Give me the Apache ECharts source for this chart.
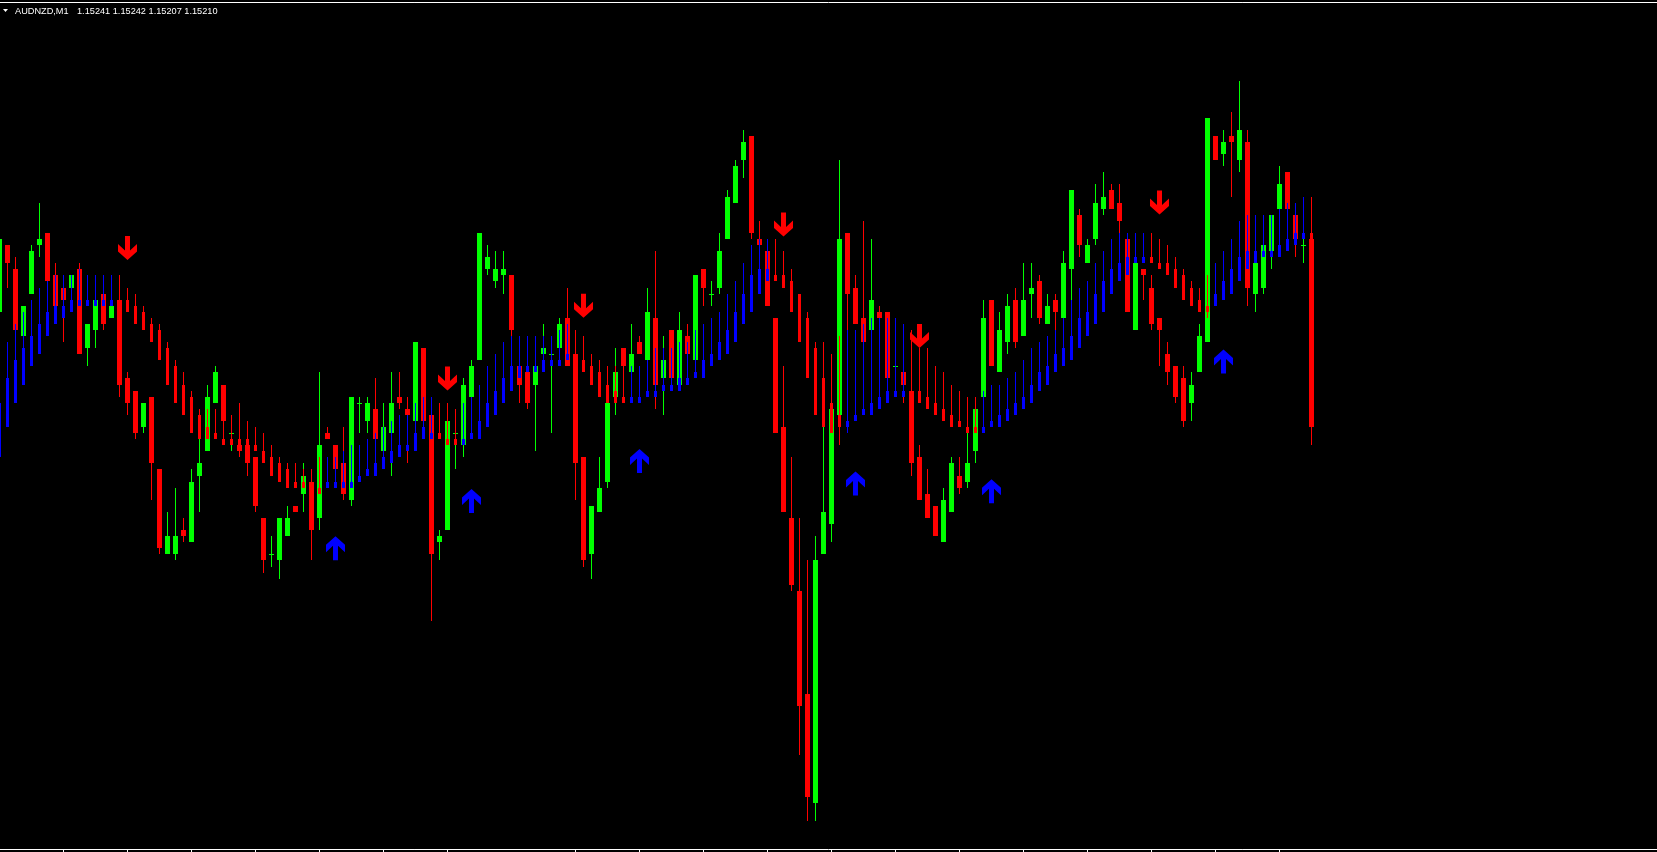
<!DOCTYPE html>
<html>
<head>
<meta charset="utf-8">
<title>AUDNZD,M1</title>
<script src="https://cdn.jsdelivr.net/npm/echarts@6/dist/echarts.min.js"></script>
<style>
  html, body { margin: 0; padding: 0; background: #000; }
  #chart { width: 1657px; height: 852px; }
</style>
</head>
<body>
<div id="chart"></div>
<script>
// AUDNZD M1 - bars numbered from the oldest visible one (0) to the current one (164)
const symbol = 'AUDNZD,M1'

const open = [
  1.15229,1.15240,1.15236,1.15225,1.15232,1.15240,1.15242,1.15235,1.15233,1.15233,
  1.15236,1.15223,1.15226,1.15232,1.15228,1.15231,1.15218,1.15216,1.15210,1.15215,
  1.15203,1.15189,1.15189,1.15193,1.15191,1.15202,1.15206,1.15214,1.15217,1.15209,
  1.15207,1.15207,1.15205,1.15195,1.15189,1.15188,1.15192,1.15197,1.15199,1.15201,
  1.15195,1.15209,1.15207,1.15204,1.15198,1.15214,1.15211,1.15213,1.15206,1.15209,
  1.15215,1.15213,1.15211,1.15223,1.15212,1.15191,1.15193,1.15209,1.15207,1.15215,
  1.15221,1.15236,1.15234,1.15235,1.15235,1.15220,1.15219,1.15217,1.15222,1.15222,
  1.15223,1.15228,1.15222,1.15205,1.15189,1.15196,1.15201,1.15215,1.15223,1.15219,
  1.15224,1.15221,1.15228,1.15218,1.15226,1.15217,1.15225,1.15221,1.15236,1.15232,
  1.15233,1.15241,1.15247,1.15254,1.15258,1.15241,1.15239,1.15228,1.15210,1.15195,
  1.15183,1.15166,1.15148,1.15189,1.15194,1.15212,1.15242,1.15233,1.15228,1.15226,
  1.15229,1.15229,1.15220,1.15219,1.15216,1.15205,1.15199,1.15197,1.15191,1.15196,
  1.15202,1.15201,1.15206,1.15215,1.15231,1.15219,1.15224,1.15231,1.15225,1.15232,
  1.15234,1.15227,1.15231,1.15228,1.15236,1.15245,1.15237,1.15241,1.15246,1.15249,
  1.15247,1.15241,1.15226,1.15236,1.15233,1.15228,1.15222,1.15220,1.15218,1.15214,
  1.15219,1.15224,1.15258,1.15255,1.15258,1.15254,1.15257,1.15232,1.15233,1.15239,
  1.15246,1.15252,1.15245,1.15240,1.15241
]
const high = [
  1.15241,1.15240,1.15238,1.15230,1.15240,1.15247,1.15242,1.15237,1.15233,1.15235,
  1.15237,1.15227,1.15231,1.15232,1.15230,1.15235,1.15219,1.15216,1.15214,1.15215,
  1.15203,1.15196,1.15200,1.15195,1.15203,1.15208,1.15217,1.15220,1.15217,1.15212,
  1.15214,1.15211,1.15205,1.15195,1.15192,1.15195,1.15197,1.15197,1.15204,1.15203,
  1.15219,1.15210,1.15207,1.15210,1.15215,1.15215,1.15215,1.15218,1.15214,1.15219,
  1.15219,1.15215,1.15224,1.15223,1.15212,1.15193,1.15211,1.15209,1.15218,1.15221,
  1.15242,1.15240,1.15239,1.15239,1.15235,1.15220,1.15219,1.15220,1.15227,1.15222,
  1.15228,1.15233,1.15226,1.15205,1.15197,1.15205,1.15214,1.15223,1.15223,1.15227,
  1.15225,1.15233,1.15239,1.15225,1.15226,1.15229,1.15227,1.15235,1.15236,1.15234,
  1.15242,1.15249,1.15254,1.15259,1.15258,1.15244,1.15239,1.15228,1.15220,1.15205,
  1.15195,1.15188,1.15192,1.15224,1.15213,1.15254,1.15242,1.15235,1.15244,1.15241,
  1.15230,1.15229,1.15220,1.15219,1.15226,1.15207,1.15203,1.15197,1.15200,1.15205,
  1.15205,1.15209,1.15215,1.15231,1.15231,1.15229,1.15232,1.15233,1.15237,1.15237,
  1.15235,1.15232,1.15232,1.15239,1.15249,1.15246,1.15241,1.15250,1.15252,1.15250,
  1.15250,1.15241,1.15237,1.15236,1.15235,1.15228,1.15224,1.15220,1.15220,1.15219,
  1.15227,1.15261,1.15258,1.15259,1.15262,1.15267,1.15259,1.15237,1.15240,1.15245,
  1.15253,1.15252,1.15245,1.15248,1.15242
]
const low = [
  1.15229,1.15233,1.15226,1.15225,1.15232,1.15238,1.15234,1.15230,1.15224,1.15233,
  1.15222,1.15220,1.15223,1.15226,1.15228,1.15215,1.15212,1.15208,1.15209,1.15198,
  1.15189,1.15189,1.15188,1.15191,1.15191,1.15196,1.15206,1.15214,1.15208,1.15206,
  1.15205,1.15202,1.15196,1.15186,1.15187,1.15185,1.15192,1.15196,1.15196,1.15188,
  1.15193,1.15208,1.15203,1.15198,1.15197,1.15209,1.15209,1.15208,1.15206,1.15202,
  1.15213,1.15204,1.15211,1.15211,1.15178,1.15188,1.15193,1.15203,1.15205,1.15215,
  1.15221,1.15235,1.15233,1.15232,1.15225,1.15214,1.15213,1.15206,1.15222,1.15209,
  1.15223,1.15220,1.15198,1.15187,1.15185,1.15196,1.15200,1.15212,1.15214,1.15219,
  1.15222,1.15221,1.15213,1.15212,1.15218,1.15217,1.15222,1.15221,1.15230,1.15230,
  1.15232,1.15241,1.15247,1.15251,1.15241,1.15240,1.15230,1.15209,1.15196,1.15183,
  1.15156,1.15145,1.15145,1.15189,1.15191,1.15212,1.15225,1.15227,1.15224,1.15226,
  1.15228,1.15218,1.15220,1.15214,1.15202,1.15198,1.15195,1.15192,1.15191,1.15196,
  1.15199,1.15200,1.15204,1.15215,1.15220,1.15219,1.15222,1.15223,1.15225,1.15228,
  1.15227,1.15227,1.15226,1.15228,1.15231,1.15238,1.15237,1.15240,1.15245,1.15246,
  1.15242,1.15229,1.15226,1.15231,1.15226,1.15220,1.15217,1.15214,1.15210,1.15211,
  1.15219,1.15224,1.15254,1.15253,1.15248,1.15252,1.15230,1.15229,1.15232,1.15236,
  1.15246,1.15246,1.15238,1.15237,1.15207
]
const close = [
  1.15241,1.15237,1.15226,1.15230,1.15239,1.15241,1.15234,1.15230,1.15231,1.15235,
  1.15222,1.15227,1.15231,1.15227,1.15230,1.15217,1.15214,1.15209,1.15214,1.15204,
  1.15190,1.15192,1.15192,1.15192,1.15201,1.15204,1.15215,1.15219,1.15211,1.15209,
  1.15206,1.15204,1.15197,1.15188,1.15189,1.15195,1.15195,1.15196,1.15202,1.15193,
  1.15207,1.15208,1.15203,1.15199,1.15215,1.15214,1.15214,1.15208,1.15210,1.15214,
  1.15214,1.15212,1.15224,1.15211,1.15189,1.15192,1.15211,1.15209,1.15217,1.15220,
  1.15242,1.15238,1.15236,1.15236,1.15226,1.15217,1.15214,1.15220,1.15223,1.15222,
  1.15227,1.15220,1.15204,1.15188,1.15197,1.15200,1.15214,1.15219,1.15220,1.15222,
  1.15222,1.15229,1.15217,1.15221,1.15218,1.15226,1.15222,1.15235,1.15233,1.15232,
  1.15239,1.15248,1.15253,1.15257,1.15242,1.15240,1.15230,1.15209,1.15196,1.15184,
  1.15164,1.15149,1.15188,1.15196,1.15213,1.15241,1.15232,1.15227,1.15224,1.15231,
  1.15228,1.15218,1.15220,1.15217,1.15204,1.15198,1.15195,1.15192,1.15198,1.15204,
  1.15200,1.15204,1.15213,1.15228,1.15220,1.15226,1.15230,1.15224,1.15231,1.15233,
  1.15228,1.15230,1.15229,1.15237,1.15249,1.15240,1.15240,1.15247,1.15248,1.15246,
  1.15244,1.15229,1.15237,1.15235,1.15227,1.15226,1.15219,1.15215,1.15211,1.15217,
  1.15225,1.15261,1.15254,1.15257,1.15257,1.15259,1.15233,1.15237,1.15240,1.15245,
  1.15250,1.15246,1.15241,1.15240,1.15210
]

// trend indicator bars: 1 = up (blue), -1 = down (red)
const indTrend = [
  1,1,1,1,1,1,1,1,1,1,
  1,1,1,1,1,-1,-1,-1,-1,-1,
  -1,-1,-1,-1,-1,-1,-1,-1,-1,-1,
  -1,-1,-1,-1,-1,-1,-1,-1,-1,-1,
  -1,1,1,1,1,1,1,1,1,1,
  1,1,1,1,1,-1,-1,-1,1,1,
  1,1,1,1,1,1,1,1,1,1,
  1,1,-1,-1,-1,-1,-1,-1,-1,1,
  1,1,1,1,1,1,1,1,1,1,
  1,1,1,1,1,1,1,-1,-1,-1,
  -1,-1,-1,-1,-1,-1,1,1,1,1,
  1,1,1,1,-1,-1,-1,-1,-1,-1,
  -1,-1,-1,1,1,1,1,1,1,1,
  1,1,1,1,1,1,1,1,1,1,
  1,1,1,1,-1,-1,-1,-1,-1,-1,
  -1,-1,1,1,1,1,1,1,1,1,
  1,1,1,1,-1
]
const indTop = [
  1.15214,1.15218,1.15221,1.15223,1.15225,1.15227,1.15229,1.15230,1.15230,1.15231,
  1.15231,1.15231,1.15231,1.15231,1.15231,1.15231,1.15231,1.15230,1.15229,1.15227,
  1.15226,1.15223,1.15220,1.15217,1.15215,1.15212,1.15210,1.15209,1.15208,1.15208,
  1.15208,1.15208,1.15207,1.15206,1.15205,1.15204,1.15203,1.15201,1.15201,1.15200,
  1.15200,1.15201,1.15201,1.15201,1.15201,1.15202,1.15203,1.15204,1.15205,1.15206,
  1.15207,1.15207,1.15209,1.15210,1.15209,1.15209,1.15208,1.15208,1.15208,1.15209,
  1.15211,1.15214,1.15216,1.15218,1.15220,1.15220,1.15220,1.15220,1.15221,1.15221,
  1.15221,1.15222,1.15222,1.15221,1.15220,1.15219,1.15217,1.15216,1.15215,1.15215,
  1.15215,1.15216,1.15216,1.15217,1.15217,1.15218,1.15218,1.15219,1.15221,1.15222,
  1.15224,1.15226,1.15229,1.15232,1.15235,1.15236,1.15236,1.15235,1.15235,1.15234,
  1.15232,1.15228,1.15223,1.15218,1.15214,1.15212,1.15211,1.15212,1.15213,1.15214,
  1.15215,1.15216,1.15216,1.15216,1.15216,1.15216,1.15215,1.15214,1.15213,1.15212,
  1.15211,1.15210,1.15210,1.15210,1.15211,1.15212,1.15213,1.15214,1.15215,1.15217,
  1.15219,1.15220,1.15222,1.15223,1.15225,1.15228,1.15229,1.15232,1.15234,1.15236,
  1.15237,1.15238,1.15238,1.15238,1.15238,1.15237,1.15237,1.15236,1.15235,1.15233,
  1.15231,1.15230,1.15232,1.15234,1.15236,1.15238,1.15239,1.15239,1.15239,1.15239,
  1.15240,1.15241,1.15242,1.15242,1.15242
]
const indBottom = [
  1.15205,1.15210,1.15214,1.15217,1.15220,1.15222,1.15225,1.15227,1.15228,1.15229,
  1.15230,1.15230,1.15230,1.15230,1.15230,1.15230,1.15229,1.15227,1.15226,1.15224,
  1.15221,1.15217,1.15214,1.15212,1.15209,1.15208,1.15208,1.15208,1.15207,1.15207,
  1.15207,1.15207,1.15206,1.15204,1.15202,1.15201,1.15200,1.15200,1.15200,1.15199,
  1.15199,1.15200,1.15200,1.15200,1.15200,1.15201,1.15202,1.15202,1.15203,1.15204,
  1.15205,1.15206,1.15206,1.15208,1.15208,1.15208,1.15207,1.15207,1.15207,1.15208,
  1.15208,1.15210,1.15212,1.15214,1.15216,1.15218,1.15219,1.15219,1.15219,1.15220,
  1.15220,1.15221,1.15221,1.15219,1.15217,1.15215,1.15214,1.15214,1.15214,1.15214,
  1.15214,1.15215,1.15215,1.15216,1.15216,1.15216,1.15217,1.15218,1.15218,1.15220,
  1.15221,1.15222,1.15224,1.15227,1.15229,1.15232,1.15234,1.15234,1.15233,1.15229,
  1.15224,1.15218,1.15212,1.15210,1.15209,1.15210,1.15210,1.15211,1.15212,1.15212,
  1.15213,1.15214,1.15215,1.15215,1.15215,1.15214,1.15213,1.15212,1.15211,1.15210,
  1.15210,1.15209,1.15209,1.15209,1.15210,1.15210,1.15211,1.15212,1.15213,1.15214,
  1.15216,1.15217,1.15219,1.15220,1.15221,1.15223,1.15225,1.15227,1.15229,1.15232,
  1.15234,1.15235,1.15237,1.15237,1.15237,1.15236,1.15235,1.15233,1.15231,1.15230,
  1.15229,1.15229,1.15230,1.15231,1.15232,1.15234,1.15236,1.15237,1.15238,1.15238,
  1.15238,1.15239,1.15240,1.15241,1.15241
]
const indHigh = [
  1.15214,1.15224,1.15227,1.15229,1.15231,1.15233,1.15234,1.15235,1.15235,1.15235,
  1.15236,1.15235,1.15235,1.15235,1.15235,1.15235,1.15233,1.15232,1.15230,1.15228,
  1.15227,1.15224,1.15221,1.15219,1.15216,1.15213,1.15213,1.15213,1.15211,1.15212,
  1.15211,1.15211,1.15210,1.15209,1.15207,1.15205,1.15204,1.15204,1.15203,1.15203,
  1.15205,1.15205,1.15205,1.15206,1.15207,1.15207,1.15208,1.15209,1.15210,1.15211,
  1.15212,1.15212,1.15214,1.15215,1.15215,1.15214,1.15214,1.15213,1.15214,1.15215,
  1.15217,1.15220,1.15222,1.15224,1.15225,1.15225,1.15225,1.15225,1.15225,1.15225,
  1.15226,1.15227,1.15226,1.15225,1.15222,1.15221,1.15220,1.15220,1.15220,1.15220,
  1.15220,1.15221,1.15223,1.15223,1.15223,1.15224,1.15224,1.15226,1.15227,1.15228,
  1.15229,1.15232,1.15234,1.15237,1.15240,1.15241,1.15241,1.15241,1.15239,1.15236,
  1.15232,1.15229,1.15224,1.15224,1.15222,1.15225,1.15226,1.15226,1.15227,1.15228,
  1.15228,1.15228,1.15228,1.15227,1.15226,1.15223,1.15223,1.15220,1.15219,1.15217,
  1.15216,1.15215,1.15215,1.15216,1.15217,1.15217,1.15218,1.15219,1.15221,1.15223,
  1.15224,1.15225,1.15226,1.15228,1.15231,1.15233,1.15234,1.15237,1.15239,1.15241,
  1.15242,1.15242,1.15242,1.15242,1.15242,1.15241,1.15240,1.15238,1.15236,1.15234,
  1.15233,1.15235,1.15237,1.15239,1.15241,1.15244,1.15245,1.15245,1.15245,1.15245,
  1.15246,1.15247,1.15247,1.15248,1.15248
]
const indLow = [
  1.15205,1.15210,1.15214,1.15217,1.15220,1.15222,1.15225,1.15227,1.15228,1.15229,
  1.15230,1.15230,1.15230,1.15230,1.15230,1.15230,1.15229,1.15227,1.15226,1.15224,
  1.15221,1.15217,1.15214,1.15212,1.15209,1.15208,1.15208,1.15208,1.15207,1.15207,
  1.15207,1.15207,1.15206,1.15204,1.15202,1.15201,1.15200,1.15200,1.15200,1.15199,
  1.15199,1.15200,1.15200,1.15200,1.15200,1.15201,1.15202,1.15202,1.15203,1.15204,
  1.15205,1.15206,1.15206,1.15208,1.15208,1.15208,1.15207,1.15207,1.15207,1.15208,
  1.15208,1.15210,1.15212,1.15214,1.15216,1.15218,1.15219,1.15219,1.15219,1.15220,
  1.15220,1.15221,1.15221,1.15219,1.15217,1.15215,1.15214,1.15214,1.15214,1.15214,
  1.15214,1.15215,1.15215,1.15216,1.15216,1.15216,1.15217,1.15218,1.15218,1.15220,
  1.15221,1.15222,1.15224,1.15227,1.15229,1.15232,1.15234,1.15234,1.15233,1.15229,
  1.15224,1.15218,1.15212,1.15210,1.15209,1.15207,1.15209,1.15211,1.15212,1.15212,
  1.15213,1.15214,1.15215,1.15215,1.15215,1.15214,1.15213,1.15212,1.15211,1.15210,
  1.15210,1.15209,1.15209,1.15209,1.15210,1.15210,1.15211,1.15212,1.15213,1.15214,
  1.15216,1.15217,1.15219,1.15220,1.15221,1.15223,1.15225,1.15227,1.15229,1.15232,
  1.15234,1.15235,1.15237,1.15237,1.15237,1.15236,1.15235,1.15233,1.15231,1.15230,
  1.15229,1.15228,1.15230,1.15231,1.15232,1.15234,1.15236,1.15237,1.15238,1.15238,
  1.15238,1.15239,1.15240,1.15241,1.15241
]

// signal arrows (bar index, price of the arrow centre)
const sellBars = [16, 56, 73, 98, 115, 145]
const sellPrice = [1.152395, 1.15218, 1.15230, 1.152434, 1.15225, 1.15247]
const buyBars = [42, 59, 80, 107, 124, 153]
const buyPrice = [1.15190, 1.151978, 1.152044, 1.152007, 1.151994, 1.152208]

// time scale tick marks (bar index), one every 8 bars, one hidden under a label gap
const tickBars = [8, 16, 24, 32, 40, 48, 56, 72, 80, 88, 96, 104, 112, 120, 128, 136, 144, 152, 160]

const BULL = '#00ff00'
const BEAR = '#ff0000'
const UP = '#0000ff'
const DOWN = '#ff0000'

// 8 px per bar, first bar centred half a pixel left of the window edge
const X_MIN = 0.0625
const X_MAX = 207.1875
const Y_MIN = 1.1514042
const Y_MAX = 1.1528008

const candleData = open.map((o, i) => [i, o, close[i], low[i], high[i]])
const indData = indTop.map((t, i) => [i, t, indBottom[i], indLow[i], indHigh[i], indTrend[i]])

function renderCandle(params, api) {
  const i = api.value(0)
  const o = api.value(1), c = api.value(2), l = api.value(3), h = api.value(4)
  const x = api.coord([i, o])[0]
  const yo = Math.round(api.coord([i, o])[1])
  const yc = Math.round(api.coord([i, c])[1])
  const yl = Math.round(api.coord([i, l])[1])
  const yh = Math.round(api.coord([i, h])[1])
  const color = c >= o ? BULL : BEAR
  const top = Math.min(yo, yc), bot = Math.max(yo, yc)
  return {
    type: 'group',
    children: [
      { type: 'rect', shape: { x: Math.round(x - 0.5), y: yh, width: 1, height: Math.max(1, yl - yh) }, style: { fill: color } },
      { type: 'rect', shape: { x: Math.round(x - 2.5), y: top, width: 5, height: Math.max(1, bot - top) }, style: { fill: color } }
    ]
  }
}

function renderIndicator(params, api) {
  const i = api.value(0)
  const t = api.value(1), b = api.value(2), l = api.value(3), h = api.value(4)
  const color = api.value(5) > 0 ? UP : DOWN
  const x = api.coord([i, t])[0]
  const yt = Math.round(api.coord([i, t])[1])
  const yb = Math.round(api.coord([i, b])[1])
  const yl = Math.round(api.coord([i, l])[1])
  const yh = Math.round(api.coord([i, h])[1])
  return {
    type: 'group',
    children: [
      { type: 'rect', shape: { x: Math.round(x - 0.5), y: yh, width: 1, height: Math.max(1, yl - yh) }, style: { fill: color } },
      { type: 'rect', shape: { x: Math.round(x - 1.5), y: yt, width: 3, height: Math.max(2, yb - yt) }, style: { fill: color } }
    ]
  }
}

const upArrow = 'path://M9.5,0 L19,8.5 L19,16 L12,9.5 L12,24 L7,24 L7,9.5 L0,16 L0,8.5 Z'
const downArrow = 'path://M9.5,24 L19,15.5 L19,8 L12,14.5 L12,0 L7,0 L7,14.5 L0,8 L0,15.5 Z'

const chart = echarts.init(document.getElementById('chart'))
const last = open.length - 1
const quote = [open[last], high[last], low[last], close[last]].map(v => v.toFixed(5)).join(' ')

chart.setOption({
  backgroundColor: '#000',
  animation: false,
  grid: { left: 0, right: 0, top: 2, bottom: 3 },
  xAxis: [{
    type: 'value', min: X_MIN, max: X_MAX, position: 'bottom',
    axisLine: { show: true, onZero: false, lineStyle: { color: '#fff', width: 1 } },
    axisTick: { show: true, customValues: tickBars, length: 3, inside: false, lineStyle: { color: '#fff', width: 1 } },
    axisLabel: { show: false },
    splitLine: { show: false }
  }, {
    type: 'value', min: X_MIN, max: X_MAX, position: 'top',
    axisLine: { show: true, onZero: false, lineStyle: { color: '#fff', width: 1 } },
    axisTick: { show: false },
    axisLabel: { show: false },
    splitLine: { show: false }
  }],
  yAxis: { type: 'value', min: Y_MIN, max: Y_MAX, show: false, scale: true },
  graphic: [
    { type: 'polygon', silent: true, shape: { points: [[3, 9], [8, 9], [5.5, 12]] }, style: { fill: '#fff' } },
    { type: 'text', silent: true, x: 15, y: 11, style: { text: symbol, fill: '#fff', font: '9.2px "Liberation Sans", Arial, sans-serif', verticalAlign: 'middle' } },
    { type: 'text', silent: true, x: 77, y: 11, style: { text: quote, fill: '#fff', font: '9.2px "Liberation Sans", Arial, sans-serif', verticalAlign: 'middle' } }
  ],
  series: [{
    type: 'custom',
    name: 'price',
    z: 1,
    silent: true,
    renderItem: renderCandle,
    encode: { x: 0, y: [1, 2, 3, 4] },
    data: candleData
  }, {
    type: 'custom',
    name: 'trend',
    z: 2,
    silent: true,
    renderItem: renderIndicator,
    encode: { x: 0, y: [1, 2, 3, 4] },
    data: indData
  }, {
    type: 'scatter',
    name: 'sell',
    z: 3,
    silent: true,
    symbol: downArrow,
    symbolSize: [19, 24],
    itemStyle: { color: '#ff0000', opacity: 1 },
    data: sellBars.map((b, i) => [b, sellPrice[i]])
  }, {
    type: 'scatter',
    name: 'buy',
    z: 3,
    silent: true,
    symbol: upArrow,
    symbolSize: [19, 24],
    itemStyle: { color: '#0000ff', opacity: 1 },
    data: buyBars.map((b, i) => [b, buyPrice[i]])
  }]
})
</script>
</body>
</html>
